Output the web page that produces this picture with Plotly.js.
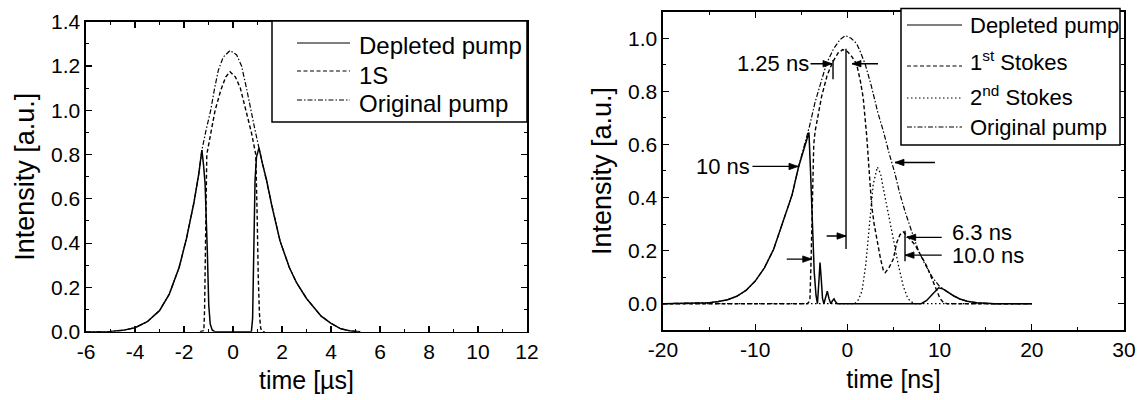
<!DOCTYPE html>
<html>
<head>
<meta charset="utf-8">
<script src="https://cdn.plot.ly/plotly-3.0.1.min.js"></script>
<style>html,body{margin:0;padding:0;background:#fff}#chart{width:1142px;height:400px}</style>
</head>
<body>
<div id="chart"></div>
<script>
// ---------- LEFT PANEL DATA (time in µs) ----------
const leftDepletedT = [-6,-5,-4.5,-4,-3.5,-3,-2.6,-2.2,-1.9,-1.6,-1.4,-1.27,-1.2,-1.14,-1.05,-0.99,-0.93,-0.85,-0.75,0.75,0.8,0.86,0.9,0.96,1.06,1.2,1.37,1.6,1.92,2.3,2.6,3.0,3.3,3.6,4.0,4.4,4.8,5.2];
const leftDepletedV = [0,0.001,0.006,0.018,0.045,0.095,0.17,0.29,0.42,0.58,0.71,0.82,0.75,0.67,0.37,0.12,0.035,0.008,0,0,0.06,0.4,0.685,0.79,0.83,0.76,0.685,0.56,0.41,0.29,0.22,0.15,0.11,0.07,0.038,0.013,0.003,0];
const left1ST = [-1.35,-1.19,-1.16,-1.13,-1.1,-1.07,-0.9,-0.73,-0.5,-0.3,-0.12,0.1,0.3,0.53,0.75,0.93,0.96,0.99,1.03,1.08,1.13,1.2,1.3];
const left1SV = [0,0.005,0.1,0.4,0.685,0.8,0.9,1.0,1.09,1.15,1.174,1.15,1.1,1.0,0.9,0.8,0.68,0.5,0.25,0.08,0.015,0,0];
const leftOrigT = [-6,-5,-4.5,-4,-3.5,-3,-2.6,-2.2,-1.9,-1.6,-1.4,-1.27,-1.1,-0.91,-0.75,-0.6,-0.4,-0.12,0.15,0.35,0.55,0.72,0.9,1.06,1.2,1.37,1.6,1.92,2.3,2.6,3.0,3.3,3.6,4.0,4.4,4.8,5.2];
const leftOrigV = [0,0.001,0.006,0.018,0.045,0.095,0.17,0.29,0.42,0.58,0.71,0.82,0.91,1.0,1.1,1.18,1.24,1.27,1.25,1.2,1.1,1.0,0.91,0.83,0.76,0.685,0.56,0.41,0.29,0.22,0.15,0.11,0.07,0.038,0.013,0.003,0];
const leftNames = ['Depleted pump','1S','Original pump'];
const leftXTickVals = [-6,-4,-2,0,2,4,6,8,10,12];
const leftXTickText = ['-6','-4','-2','0','2','4','6','8','10','12'];
const leftYTickVals = [0,0.2,0.4,0.6,0.8,1.0,1.2,1.4];
const leftYTickText = ['0.0','0.2','0.4','0.6','0.8','1.0','1.2','1.4'];

// ---------- RIGHT PANEL DATA (time in ns) ----------
const rightDepletedT = [-20,-17,-15,-14,-13,-12,-11,-10,-9,-8,-7,-6,-5.3,-4.7,-4.17,-4.0,-3.8,-3.6,-3.4,-3.25,-3.1,-2.97,-2.85,-2.7,-2.55,-2.35,-2.18,-2.0,-1.8,-1.6,-1.45,-1.3,-1.1,8.0,8.6,9.2,9.9,10.4,10.8,11.5,12.2,13,14,15,16,20];
const rightDepletedV = [0,0.001,0.004,0.008,0.015,0.028,0.05,0.085,0.135,0.205,0.31,0.41,0.515,0.585,0.645,0.5,0.3,0.12,0.03,0,0.08,0.155,0.1,0.02,0,0.03,0.047,0.02,0,0.012,0.018,0.008,0,0,0.012,0.035,0.06,0.055,0.045,0.03,0.018,0.009,0.004,0.001,0,0];
const right1stT = [-20,-4.4,-4.2,-4.06,-3.95,-3.85,-3.75,-3.65,-3.5,-3.2,-2.8,-2.2,-1.6,-1.0,-0.5,0.0,0.5,0.99,1.4,1.71,2.1,2.4,2.63,2.9,3.17,3.6,3.9,4.1,4.5,4.98,5.35,5.7,6.07,6.5,7.33,8.0,8.6,9.1,9.5,9.8,10.04,10.4,10.8,20];
const right1stV = [0,0,0.005,0.02,0.15,0.32,0.5,0.6,0.65,0.7,0.78,0.86,0.91,0.945,0.957,0.95,0.93,0.904,0.84,0.777,0.63,0.48,0.37,0.3,0.244,0.168,0.125,0.117,0.135,0.168,0.23,0.26,0.27,0.255,0.222,0.18,0.142,0.1,0.066,0.035,0.02,0.005,0,0];
const right2ndT = [-20,0.8,1.2,1.6,2.0,2.45,2.8,3.25,3.6,3.9,4.4,4.98,5.5,6.06,6.5,6.8,7.3,20];
const right2ndV = [0,0,0.015,0.05,0.15,0.33,0.45,0.515,0.49,0.434,0.34,0.244,0.15,0.066,0.025,0.01,0,0];
const rightOrigT = [-20,-17,-15,-14,-13,-12,-11,-10,-9,-8,-7,-6,-5.3,-4.7,-4.1,-3.5,-2.27,-1.5,-0.8,-0.2,0.4,1.0,1.33,1.95,2.6,3.3,3.9,4.5,5.16,5.7,6.3,7.0,7.7,8.4,9.2,10.0,10.8,11.5,12.2,13,14,15,16,20];
const rightOrigV = [0,0.001,0.004,0.008,0.015,0.028,0.05,0.085,0.135,0.205,0.31,0.41,0.515,0.59,0.67,0.76,0.904,0.96,0.995,1.01,1.0,0.98,0.955,0.9,0.82,0.72,0.65,0.57,0.49,0.413,0.342,0.27,0.2,0.15,0.1,0.065,0.045,0.03,0.018,0.009,0.004,0.001,0,0];
const rightNames = ['Depleted pump','1<sup>st</sup> Stokes','2<sup>nd</sup> Stokes','Original pump'];
const rightXTickVals = [-20,-10,0,10,20,30];
const rightXTickText = ['-20','-10','0','10','20','30'];
const rightYTickVals = [0,0.2,0.4,0.6,0.8,1.0];
const rightYTickText = ['0.0','0.2','0.4','0.6','0.8','1.0'];

// ---------- STYLE ----------
const FONT = 'Liberation Sans, Arial, Helvetica, sans-serif';
const W = 1142, H = 400;
const DASH = {solid:'solid', dash:'4px,2.5px', dot:'1.5px,2.5px', dashdot:'5px,2px,1.5px,2px'};
const px = v => v / W;
const py = v => 1 - v / H;

const traces = [
  {x:leftDepletedT, y:leftDepletedV, xaxis:'x', yaxis:'y', mode:'lines', line:{color:'#000', width:1.5, dash:DASH.solid}, name:leftNames[0]},
  {x:left1ST, y:left1SV, xaxis:'x', yaxis:'y', mode:'lines', line:{color:'#000', width:1.4, dash:DASH.dash}, name:leftNames[1]},
  {x:leftOrigT, y:leftOrigV, xaxis:'x', yaxis:'y', mode:'lines', line:{color:'#000', width:1.2, dash:DASH.dashdot}, name:leftNames[2]},
  {x:rightDepletedT, y:rightDepletedV, xaxis:'x2', yaxis:'y2', mode:'lines', line:{color:'#000', width:1.5, dash:DASH.solid}, name:'Depleted pump'},
  {x:right1stT, y:right1stV, xaxis:'x2', yaxis:'y2', mode:'lines', line:{color:'#000', width:1.4, dash:DASH.dash}, name:'1st Stokes'},
  {x:right2ndT, y:right2ndV, xaxis:'x2', yaxis:'y2', mode:'lines', line:{color:'#000', width:1.3, dash:DASH.dot}, name:'2nd Stokes'},
  {x:rightOrigT, y:rightOrigV, xaxis:'x2', yaxis:'y2', mode:'lines', line:{color:'#000', width:1.2, dash:DASH.dashdot}, name:'Original pump'}
].map(t => Object.assign(t, {showlegend:false, hoverinfo:'skip'}));

function axisBase(extra){
  return Object.assign({
    showline:true, mirror:'ticks', linecolor:'#000', linewidth:1.6,
    ticks:'inside', ticklen:6, tickwidth:1.2, tickcolor:'#000',
    showgrid:false, zeroline:false, tickmode:'array',
    tickfont:{family:FONT, size:21, color:'#000'}
  }, extra);
}
const minorTicks = d => ({ticks:'inside', ticklen:3, tickwidth:1, tickcolor:'#000', dtick:d, tick0:0, showgrid:false});

const layout = {
  width:W, height:H,
  margin:{l:0, r:0, t:0, b:0},
  paper_bgcolor:'#fff', plot_bgcolor:'#fff',
  font:{family:FONT, color:'#000'},
  xaxis: axisBase({domain:[px(86), px(527)], range:[-6,12], anchor:'y',
    tickvals:leftXTickVals, ticktext:leftXTickText, minor:minorTicks(1),
    title:{text:'time [µs]', font:{family:FONT, size:25}, standoff:10}}),
  yaxis: axisBase({domain:[1-331.7/H, 1-21.7/H], range:[0,1.4], anchor:'x',
    tickvals:leftYTickVals, ticktext:leftYTickText, minor:minorTicks(0.1),
    title:{text:'Intensity [a.u.]', font:{family:FONT, size:27}, standoff:8}}),
  xaxis2: axisBase({domain:[px(663), px(1124)], range:[-20,30], anchor:'y2',
    tickvals:rightXTickVals, ticktext:rightXTickText, minor:minorTicks(5),
    title:{text:'time [ns]', font:{family:FONT, size:25}, standoff:10}}),
  yaxis2: axisBase({domain:[1-330.25/H, 1-11.7/H], range:[-0.1,1.1], anchor:'x2',
    tickvals:rightYTickVals, ticktext:rightYTickText, minor:minorTicks(0.1),
    title:{text:'Intensity [a.u.]', font:{family:FONT, size:27}, standoff:8}}),
  shapes:[], annotations:[]
};

// ---------- LEGENDS (boxes with line samples) ----------
function legend(box, rows, sampleX0, sampleX1, textX, fontSize){
  layout.shapes.push({type:'rect', xref:'paper', yref:'paper', x0:px(box[0]), x1:px(box[1]), y0:py(box[3]), y1:py(box[2]),
    line:{color:'#000', width:1.5}, fillcolor:'#fff', layer:'above'});
  rows.forEach(r => {
    layout.shapes.push({type:'line', xref:'paper', yref:'paper', x0:px(sampleX0), x1:px(sampleX1), y0:py(r.ly), y1:py(r.ly),
      line:{color:'#000', width:1.2, dash:r.dash}, layer:'above'});
    layout.annotations.push({xref:'paper', yref:'paper', x:px(textX), y:py(r.ty), xanchor:'left', yanchor:'middle',
      text:r.name, showarrow:false, font:{family:FONT, size:fontSize, color:'#000'}});
  });
}
legend([272, 527, 21, 122], [
  {name:leftNames[0], dash:DASH.solid, ly:43, ty:45},
  {name:leftNames[1], dash:DASH.dash, ly:71, ty:75},
  {name:leftNames[2], dash:DASH.dashdot, ly:100, ty:103}
], 297, 350, 357, 24);
legend([901, 1120, 8.5, 145], [
  {name:rightNames[0], dash:DASH.solid, ly:25, ty:25},
  {name:rightNames[1], dash:DASH.dash, ly:66, ty:61},
  {name:rightNames[2], dash:DASH.dot, ly:98, ty:96},
  {name:rightNames[3], dash:DASH.dashdot, ly:127, ty:127}
], 907, 962, 968, 22);

// ---------- RIGHT PANEL ANNOTATIONS ----------
function arrow(tipX, tipY, tailX, tailY){
  layout.shapes.push({type:'line', xref:'x2', yref:'y2', x0:tailX, x1:tipX, y0:tailY, y1:tipY, line:{color:'#000', width:1.3}});
  const head = tipX > tailX ? 'M0,0 L-9,3.2 L-9,-3.2 Z' : 'M0,0 L9,3.2 L9,-3.2 Z';
  layout.shapes.push({type:'path', xref:'x2', yref:'y2', xsizemode:'pixel', ysizemode:'pixel', xanchor:tipX, yanchor:tipY,
    path:head, fillcolor:'#000', line:{color:'#000', width:0.8}});
}
function label(x, y, text, anchor){
  layout.annotations.push({xref:'x2', yref:'y2', x:x, y:y, text:text, showarrow:false, xanchor:anchor, yanchor:'middle',
    font:{family:FONT, size:22, color:'#000'}});
}
function vline(x, y0, y1){
  layout.shapes.push({type:'line', xref:'x2', yref:'y2', x0:x, x1:x, y0:y0, y1:y1, line:{color:'#000', width:1.4}});
}
label(-4.0, 0.904, '1.25 ns', 'right');
arrow(-1.67, 0.904, -4.0, 0.904);
vline(-1.56, 0.846, 0.918);
vline(-0.15, 0.206, 0.96);
arrow(0.5, 0.904, 3.32, 0.904);
arrow(-0.15, 0.255, -2.25, 0.255);
arrow(-3.87, 0.168, -6.58, 0.168);
label(-10.3, 0.517, '10 ns', 'right');
arrow(-5.36, 0.517, -10.3, 0.517);
arrow(5.16, 0.532, 9.5, 0.532);
label(11.1, 0.27, '6.3 ns', 'left');
arrow(6.43, 0.25, 10.23, 0.25);
label(11.1, 0.18, '10.0 ns', 'left');
arrow(6.25, 0.183, 10.23, 0.183);
vline(6.25, 0.16, 0.275);

Plotly.newPlot('chart', traces, layout, {staticPlot:true, displayModeBar:false});
</script>
</body>
</html>
